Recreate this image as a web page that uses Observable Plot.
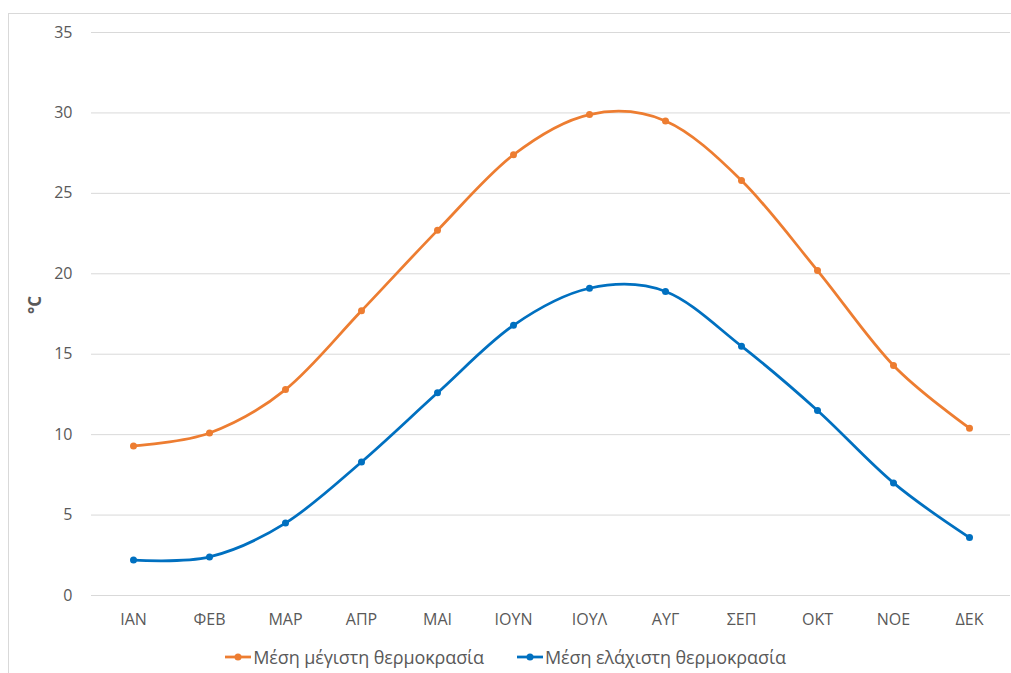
<!DOCTYPE html>
<html>
<head>
<meta charset="utf-8">
<script src="https://cdn.jsdelivr.net/npm/d3@7"></script>
<script src="https://cdn.jsdelivr.net/npm/@observablehq/plot@0.6"></script>
<style>
  html, body { margin: 0; padding: 0; background: #fff; }
  body { width: 1011px; height: 673px; position: relative; overflow: hidden; font-family: "Open Sans", "Noto Sans", sans-serif; }
  #frame { position: absolute; left: 8px; top: 13px; width: 1020px; height: 680px; border: 1px solid #d9d9d9; box-sizing: border-box; }
  #chart { position: absolute; left: 0; top: 0; }
  #legend { position: absolute; top: 645px; left: 0; width: 1011px; display: flex; justify-content: center; gap: 33px; font-size: 18px; line-height: 24px; color: #595959; letter-spacing: -0.1px; }
  .item { display: flex; align-items: center; }
  .item svg { margin-right: 2px; }
</style>
</head>
<body>
<div id="frame"></div>
<div id="chart"></div>
<div id="legend"></div>
<script>
const months = ["ΙΑΝ","ΦΕΒ","ΜΑΡ","ΑΠΡ","ΜΑΙ","ΙΟΥΝ","ΙΟΥΛ","ΑΥΓ","ΣΕΠ","ΟΚΤ","ΝΟΕ","ΔΕΚ"];
const maxTemp = [9.3,10.1,12.8,17.7,22.7,27.4,29.9,29.5,25.8,20.2,14.3,10.4];
const minTemp = [2.2,2.4,4.5,8.3,12.6,16.8,19.1,18.9,15.5,11.5,7.0,3.6];
const seriesNames = ["Μέση μέγιστη θερμοκρασία","Μέση ελάχιστη θερμοκρασία"];
const seriesColors = ["#ED7D31","#0070C0"];
const yTicks = [0,5,10,15,20,25,30,35];
const yLabel = "°C";

const data = [];
months.forEach((m,i) => {
  data.push({month: m, value: maxTemp[i], series: seriesNames[0]});
  data.push({month: m, value: minTemp[i], series: seriesNames[1]});
});

const curve = d3.curveCatmullRom.alpha(0);

const chart = Plot.plot({
  width: 1011,
  height: 640,
  marginTop: 32,
  marginBottom: 45,
  marginLeft: 91,
  marginRight: 1,
  style: { fontFamily: "'Open Sans', 'Noto Sans', sans-serif", fontSize: "16px", color: "#595959", background: "transparent" },
  x: { type: "point", domain: months, padding: 0.5, label: null },
  y: { domain: [0, 35], ticks: yTicks, label: null },
  color: { domain: seriesNames, range: seriesColors },
  marks: [
    Plot.gridY(yTicks, { stroke: "#d9d9d9", strokeOpacity: 1, strokeWidth: 1 }),
    Plot.axisY({ ticks: yTicks, tickSize: 0, tickPadding: 19, label: null, fontSize: 16 }),
    Plot.axisX({ tickSize: 0, tickPadding: 18, label: null, fontSize: 16 }),
    Plot.text([yLabel], { frameAnchor: "left", text: d => d, rotate: -90, dx: -56, fontSize: 17, fontWeight: "bold", fill: "#595959" }),
    Plot.line(data, { x: "month", y: "value", z: "series", stroke: "series", strokeWidth: 2.75, curve }),
    Plot.dot(data, { x: "month", y: "value", fill: "series", r: 3.5 })
  ]
});
document.getElementById("chart").appendChild(chart);

const legend = document.getElementById("legend");
seriesNames.forEach((name, i) => {
  const item = document.createElement("div");
  item.className = "item";
  item.innerHTML = `<svg width="26" height="12"><line x1="0" y1="6" x2="26" y2="6" stroke="${seriesColors[i]}" stroke-width="2.75"/><circle cx="13" cy="6" r="3.5" fill="${seriesColors[i]}"/></svg><span></span>`;
  item.querySelector("span").textContent = name;
  legend.appendChild(item);
});
</script>
</body>
</html>
